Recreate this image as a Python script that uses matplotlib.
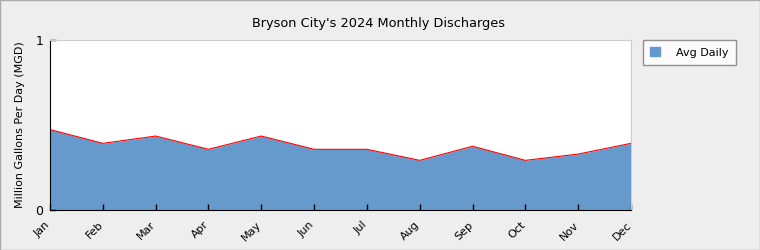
import matplotlib
matplotlib.use("Agg")
import matplotlib.pyplot as plt
import matplotlib.transforms as mtransforms
from matplotlib.patches import Rectangle, Patch

months = ["Jan", "Feb", "Mar", "Apr", "May", "Jun",
          "Jul", "Aug", "Sep", "Oct", "Nov", "Dec"]
avg_daily = [0.473, 0.392, 0.435, 0.357, 0.435, 0.357,
             0.357, 0.292, 0.375, 0.292, 0.329, 0.392]

fig = plt.figure(figsize=(7.6, 2.5), dpi=100, facecolor="#eeeeee")
fig.patches.append(Rectangle((0, 0), 1, 1, transform=fig.transFigure,
                             fill=False, edgecolor="#aaaaaa", linewidth=1))
ax = fig.add_axes([50 / 760, 40 / 250, 581 / 760, 170 / 250])
ax.set_facecolor("white")

x = list(range(len(months)))
ax.fill_between(x, 0, avg_daily, color="#6699cc", linewidth=0)
ax.plot(x, avg_daily, color="red", linewidth=0.8)

ax.set_xlim(0, len(months) - 1)
ax.set_ylim(0, 1)
ax.set_xticks(x)
ax.set_xticklabels(months, rotation=45, ha="right", rotation_mode="anchor", fontsize=8)
ax.set_yticks([0, 1])
ax.set_yticklabels(["0", "1"], fontsize=9)
ax.tick_params(direction="in", length=4, width=1)
ax.tick_params(axis="x", pad=7)
ax.tick_params(axis="y", pad=5)
# nudge rotated month labels a bit to the left, like the original
shift = mtransforms.ScaledTranslation(-5 / 100, 0, fig.dpi_scale_trans)
for lbl in ax.get_xticklabels():
    lbl.set_transform(lbl.get_transform() + shift)
for side in ("top", "right"):
    ax.spines[side].set_color("#cccccc")
ax.set_ylabel("Million Gallons Per Day (MGD)", fontsize=8, labelpad=7)

fig.text(379 / 760, 1 - 24 / 250, "Bryson City's 2024 Monthly Discharges",
         ha="center", va="center", fontsize=9.3)

leg = fig.legend(handles=[Patch(facecolor="#6699cc", edgecolor="#6699cc", label="Avg Daily")],
                 loc="upper left", bbox_to_anchor=(643 / 760, 1 - 40 / 250),
                 fontsize=8, frameon=True, fancybox=False, borderaxespad=0,
                 handlelength=0.9, handleheight=0.9, borderpad=0.65,
                 handletextpad=1.4)
leg.get_frame().set_edgecolor("#777777")
leg.get_frame().set_linewidth(1)

fig.savefig("out.png", dpi=100, facecolor=fig.get_facecolor())
